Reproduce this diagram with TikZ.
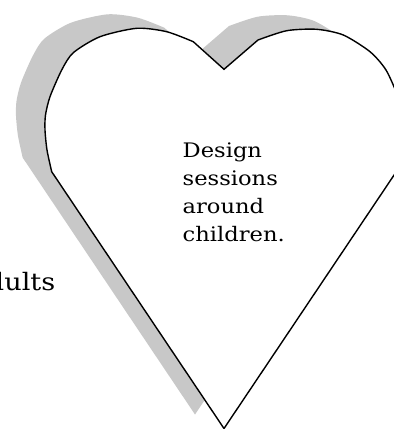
\documentclass[tikz,border=0pt]{standalone}
\usepackage{fontspec}
\setmainfont{DejaVu Serif}[FakeStretch=1.13]
\begin{document}
\begin{tikzpicture}[x=1pt,y=-1pt,
  lbl/.style={anchor=base west,inner sep=0pt,font=\fontsize{20}{28}\selectfont},
  biglbl/.style={anchor=base east,inner sep=0pt,font=\fontsize{24}{30}\selectfont},
  heartline/.style={draw=black,line width=1.4pt,line join=miter,fill=white},
  heartshadow/.style={fill=shadowgray,draw=none}]
\definecolor{shadowgray}{RGB}{200,200,200}
\useasboundingbox (0,0) rectangle (394,429);
\clip (0,0) rectangle (394,429);
\newcommand\myheartpath{(224,69.3) -- plot[smooth,tension=0.45] coordinates {(193.3,41.7) (166.7,31.7) (136.7,28.3) (100,36.7) (73.3,52.7) (61.7,70) (50,96.7) (45.5,115) (45,130) (47,150) (51.7,171.7)} -- (224,428.5) -- plot[smooth,tension=0.45] coordinates {(396.3,171.7) (401,150) (403,130) (402.5,115) (398,96.7) (386,70) (370,51.7) (343.3,35) (316.7,29.3) (286.7,30.7) (258,40)} -- cycle}
% shadow
\path[heartshadow,shift={(-29,-14)}] \myheartpath;
% heart
\path[heartline] \myheartpath;
% texts
\node[lbl] (t1) at (182.5,157) {Design};
\node[lbl] (t2) at (182.5,185) {sessions};
\node[lbl] (t3) at (182.5,213) {around};
\node[lbl] (t4) at (182.5,241.2) {children.};
\node[biglbl] (ad) at (55.5,290) {adults};
\end{tikzpicture}
\end{document}
